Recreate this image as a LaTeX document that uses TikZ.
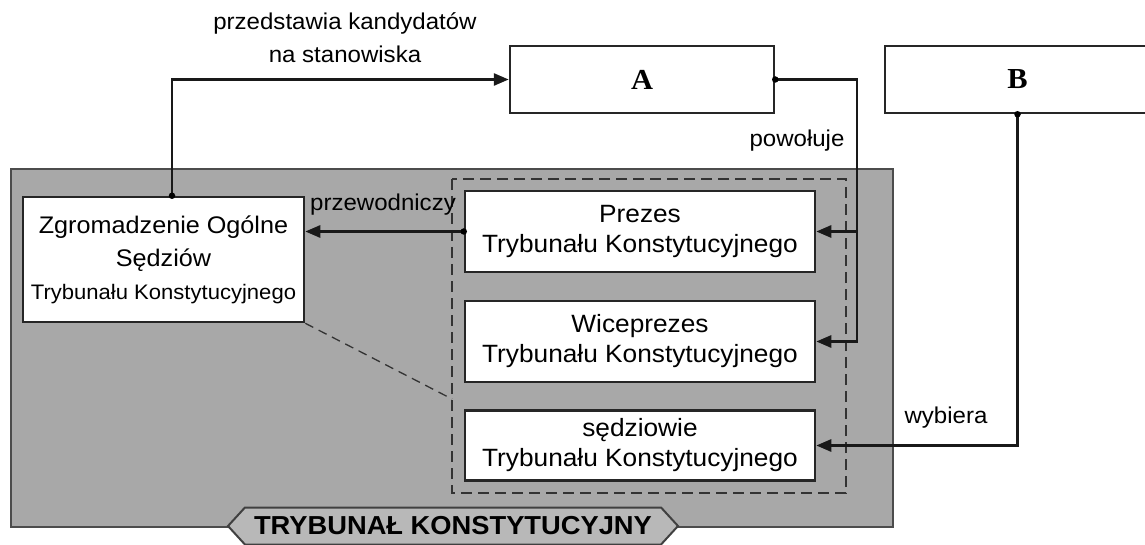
\documentclass[tikz,border=0pt]{standalone}
\usepackage{fontspec}
\setmainfont{Liberation Sans}[FakeStretch=1.05]
\newfontfamily\serifbold{Liberation Serif}[FakeStretch=1.05]
\usetikzlibrary{arrows.meta,shapes.symbols}

\begin{document}
\begin{tikzpicture}[x=1pt,y=-1pt]
	\tikzset{
		organ/.style={draw=black!85, line width=2.5pt, fill=white, inner sep=0pt, align=center, font=\fontsize{25}{30}\selectfont},
		link/.style={draw=black!90, line width=2.7pt, -{Triangle[length=15pt,width=12pt]}},
		dot/.style={circle, fill=black, minimum size=6.5pt, inner sep=0pt},
		relname/.style={font=\fontsize{22.9}{33}\selectfont, align=center, inner sep=0pt},
	}
	\useasboundingbox (0,0) rectangle (1145,545);

	% The grey court area and the dashed frame round its organs.
	\draw[draw=black!70, fill=black!34, line width=2pt] (11,169) rectangle (893,527);
	\coordinate (fnw) at (452,179); % frame top left
	\coordinate (fse) at (846,493); % frame bottom right
	\draw[draw=black!80, line width=1.8pt, dash pattern=on 11pt off 6pt] (fnw) rectangle (fse);

	% Boxes outside the court.
	\node[organ, minimum width=264pt, minimum height=67pt, font=\serifbold\bfseries\fontsize{29}{29}\selectfont] (a) at (642,79.5) {A};
	\node[organ, minimum width=265pt, minimum height=67pt, font=\serifbold\bfseries\fontsize{29}{29}\selectfont] (b) at (1017.5,79.5) {B};

	% Boxes inside the court.
	\node[organ, minimum width=281pt, minimum height=125pt, font=\fontsize{24}{33}\selectfont] (zos) at (163.5,259.5)
		{Zgromadzenie Ogólne\\Sędziów\\{\fontsize{21}{33}\selectfont Trybunału Konstytucyjnego}};
	\node[organ, minimum width=350pt, minimum height=81pt] (prezes) at (640,231.5) {Prezes\\Trybunału Konstytucyjnego};
	\node[organ, minimum width=350pt, minimum height=81pt] (wice) at (640,341.5) {Wiceprezes\\Trybunału Konstytucyjnego};
	\node[organ, minimum width=350pt, minimum height=70pt] (sedz) at (640,445.5) {sędziowie\\Trybunału Konstytucyjnego};

	% The court's name on its lower edge.
	\node[signal, signal to=west and east, signal pointer angle=95, draw=black!75, fill=black!28, line width=2pt,
		minimum width=450pt, minimum height=37pt, inner sep=0pt, font=\bfseries\fontsize{26}{26}\selectfont] (tk) at (453,526) {TRYBUNAŁ KONSTYTUCYJNY};

	% Connectors.
	\draw[link] ([xshift=8.5pt]zos.north) |- (a.west);
	\node[dot] at ([xshift=8.5pt]zos.north) {};
	\coordinate (bus) at (857,79.5);
	\draw[link] (a.east) -| (bus |- wice.east) -- (wice.east);
	\draw[link] (bus |- prezes.east) -- (prezes.east);
	\node[dot] at (a.east) {};
	\draw[link] (prezes.west) -- (prezes.west -| zos.east);
	\node[dot] at (prezes.west) {};
	\draw[link] (b.south) |- (sedz.east);
	\node[dot] at (b.south) {};
	\draw[draw=black!80, line width=1.3pt, dash pattern=on 9pt off 6pt] (zos.south east) -- (fnw |- 0,399);

	% Connector labels.
	\node[relname] (kand) at (345,38) {przedstawia kandydatów\\na stanowiska};
	\node[relname] (pow) at (797,141) {powołuje};
	\node[relname] (przew) at (383,205) {przewodniczy};
	\node[relname] (wyb) at (946,418) {wybiera};
\end{tikzpicture}
\end{document}
